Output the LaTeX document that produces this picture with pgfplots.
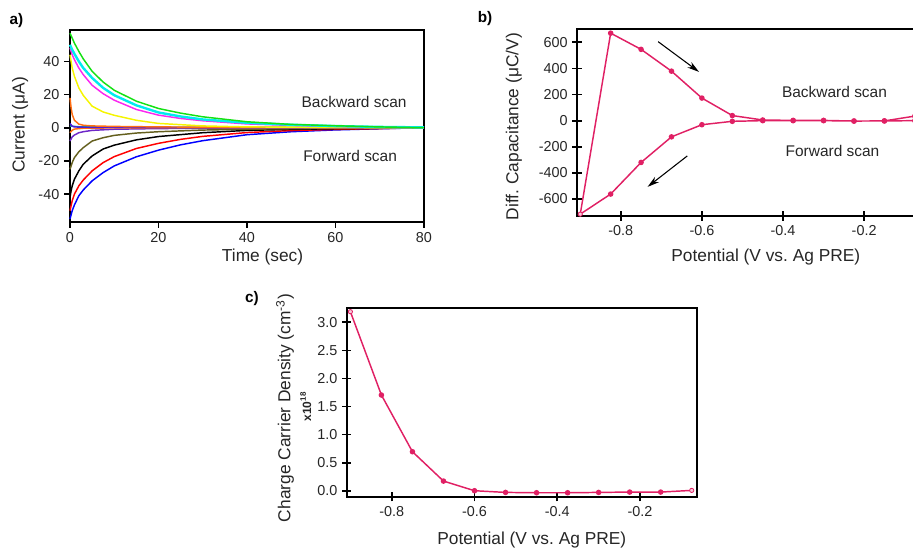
\documentclass[border=0pt]{standalone}
\usepackage{pgfplots}
\pgfplotsset{compat=1.18}
\usepackage{fontspec}
\setmainfont{Liberation Sans}
\usetikzlibrary{arrows.meta}
\frenchspacing
\definecolor{pk}{RGB}{224,32,100}
\definecolor{cgreen}{RGB}{20,225,20}
\definecolor{ccyan}{RGB}{0,235,240}
\definecolor{cmag}{RGB}{250,40,240}
\definecolor{cyel}{RGB}{245,245,0}
\definecolor{corange}{RGB}{255,110,20}
\definecolor{cpurple}{RGB}{110,40,200}
\definecolor{colive}{RGB}{100,95,30}
\definecolor{cteal}{RGB}{0,160,160}
\pgfplotsset{myax/.style={scale only axis,
  axis line style={line width=1.4pt},
  every tick/.style={line width=1.3pt, black},
  major tick length=4.5pt, tick align=outside,
  xtick pos=bottom, ytick pos=left,
  /pgf/number format/assume math mode=true,
  ticklabel style={font=\fontsize{10.8}{12}\selectfont, text=black!85},
  label style={font=\fontsize{13}{15}\selectfont, text=black!85},
  clip=false}}
\begin{document}
\frenchspacing
\begin{tikzpicture}
% ---------------- panel a ----------------
\begin{axis}[myax, at={(52.5pt,245.25pt)}, anchor=south west,
  width=265.5pt, height=144pt,
  xmin=0, xmax=80, ymin=-56.8, ymax=58.9,
  xtick={0,20,40,60,80}, ytick={-40,-20,0,20,40},
  xlabel={Time (sec)}, ylabel={Current (μA)},
  xlabel style={at={(axis description cs:0.544,-0.181)}, anchor=center},
  ylabel style={at={(axis description cs:-0.141,0.505)}, anchor=center}]
\addplot[blue, line width=1.1pt] coordinates {(0,-55) (0.25,-52.5) (0.5,-50) (1,-46.5) (2,-41) (3,-37.5) (5,-32) (7.5,-27) (10,-23) (15,-17.5) (20,-13.5) (25,-10.3) (30,-7.8) (40,-4.2) (50,-2.4) (60,-1.3) (70,-0.6) (80,0)};
\addplot[red, line width=1.1pt] coordinates {(0,-50) (0.25,-47) (0.5,-44) (1,-40) (2,-35) (3,-31.5) (5,-26) (7.5,-21) (10,-17.4) (15,-12.5) (20,-9.4) (25,-7) (30,-5.2) (40,-2.9) (50,-1.7) (60,-1) (70,-0.5) (80,0)};
\addplot[black, line width=1.1pt] coordinates {(0,-42) (0.25,-38) (0.5,-35) (1,-31) (2,-26) (3,-22) (5,-17) (7.5,-12.8) (10,-10.5) (15,-7.3) (20,-5.3) (30,-3) (40,-1.6) (50,-1) (60,-0.6) (70,-0.3) (80,0)};
\addplot[colive, line width=1.1pt] coordinates {(0,-25) (0.25,-23) (0.5,-21) (1,-18) (2,-14.5) (3,-12) (5,-8) (7.5,-6) (10,-4.6) (15,-3.2) (20,-2.4) (30,-1.4) (40,-0.9) (60,-0.3) (80,0)};
\addplot[cpurple, line width=1.1pt] coordinates {(0,-8) (0.3,-6.5) (0.5,-5.5) (1,-4.4) (2,-3) (3,-2.4) (5,-1.6) (10,-0.9) (20,-0.5) (40,-0.2) (80,0)};
\addplot[corange, line width=1.1pt] coordinates {(0,-3) (0.5,-1.5) (1,-0.8) (3,-0.3) (10,-0.1) (80,0)};
\addplot[cteal, line width=1.1pt] coordinates {(0,1) (2,0.6) (5,0.5) (20,0.3) (80,0)};
\addplot[cpurple!70!blue, line width=1.1pt] coordinates {(0,2.5) (0.5,1) (1,0.5) (3,0.3) (20,0.1) (80,0)};
\addplot[corange, line width=1.1pt] coordinates {(0,18) (0.25,12) (0.5,8) (1,4.5) (2,2.2) (3,1.5) (5,1.1) (10,0.8) (20,0.5) (40,0.2) (80,0)};
\addplot[cyel, line width=1.1pt] coordinates {(0,44) (0.25,40) (0.5,36) (1,31) (2,24) (3,19.5) (5,13) (7.5,9.5) (10,7.5) (15,4.5) (20,2.6) (30,1.1) (40,0.5) (60,0.2) (80,0)};
\addplot[cmag, line width=1.1pt] coordinates {(0,48) (0.5,44) (1,41) (2,36) (3,32) (5,25.6) (7.5,20.5) (10,16.6) (15,11) (20,7.6) (25,5.6) (30,4.2) (40,2.3) (50,1.4) (60,0.8) (70,0.4) (80,0.1)};
\addplot[ccyan, line width=1.8pt] coordinates {(0,50) (0.5,47) (1,44.5) (2,40) (3,36) (5,30) (7.5,24) (10,19.6) (15,13.5) (20,9.2) (25,6.8) (30,5) (40,3) (50,1.8) (60,1) (70,0.5) (80,0.2)};
\addplot[cgreen, line width=1.1pt] coordinates {(0,57) (0.5,54) (1,51) (2,46) (3,41.5) (5,34) (7.5,27.5) (10,22.6) (15,16) (20,11.6) (25,8.8) (30,6.6) (40,3.6) (50,2) (60,1.2) (70,0.5) (80,0)};
\node[font=\fontsize{11.6}{13}\selectfont, text=black!85] at (axis cs:64.2,15.6) {Backward scan};
\node[font=\fontsize{11.6}{13}\selectfont, text=black!85] at (axis cs:63.3,-16.8) {Forward scan};
\end{axis}
% ---------------- panel b ----------------
\begin{axis}[myax, tick align=center, major tick length=7pt,
  at={(432.75pt,249.75pt)}, anchor=south west,
  width=257pt, height=140.25pt,
  xmin=-0.908, xmax=-0.063, ymin=-730, ymax=702,
  xtick={-0.8,-0.6,-0.4,-0.2}, ytick={-600,-400,-200,0,200,400,600},
  xlabel={Potential (V vs.\ Ag PRE)}, ylabel={Diff.\ Capacitance (μC/V)},
  xlabel style={at={(axis description cs:0.551,-0.218)}, anchor=center},
  ylabel style={at={(axis description cs:-0.184,0.478)}, anchor=center}]
\addplot[pk, line width=1.1pt, mark=*, mark size=1.5pt, mark options={fill=pk}, mark indices={1,...,11,13,14,...,23}] coordinates {(-0.075,0) (-0.15,-2) (-0.225,-3) (-0.3,0) (-0.375,0) (-0.45,0) (-0.525,-5) (-0.6,-31) (-0.675,-124) (-0.75,-320) (-0.825,-562) (-0.9,-716) (-0.825,670) (-0.75,546) (-0.675,379) (-0.6,173) (-0.525,39) (-0.45,5) (-0.375,2) (-0.3,2) (-0.225,-3) (-0.15,-2) (-0.075,35)};
\addplot[only marks, mark=*, mark size=1.6pt, mark options={draw=pk, fill=pk!25, line width=0.6pt}] coordinates {(-0.9,-716)};
\draw[black, line width=0.8pt, -{Stealth[length=9pt,width=5pt]}] (axis cs:-0.708,605) -- (axis cs:-0.607,373);
\draw[black, line width=0.8pt, -{Stealth[length=9pt,width=5pt]}] (axis cs:-0.636,-270) -- (axis cs:-0.734,-507);
\node[font=\fontsize{11.6}{13}\selectfont, text=black!85] at (axis cs:-0.273,217) {Backward scan};
\node[font=\fontsize{11.6}{13}\selectfont, text=black!85] at (axis cs:-0.278,-230) {Forward scan};
\end{axis}
% ---------------- panel c ----------------
\begin{axis}[myax, tick align=center, major tick length=7pt,
  at={(260pt,39.2pt)}, anchor=south west,
  width=262.5pt, height=141.3pt,
  xmin=-0.909, xmax=-0.063, ymin=-0.107, ymax=3.25,
  xtick={-0.8,-0.6,-0.4,-0.2}, ytick={0,0.5,1,1.5,2,2.5,3},
  yticklabel style={/pgf/number format/.cd, fixed, fixed zerofill, precision=1},
  xlabel={Potential (V vs.\ Ag PRE)}, ylabel={Charge Carrier Density (cm\textsuperscript{-3})},
  xlabel style={at={(axis description cs:0.529,-0.23)}, anchor=center},
  ylabel style={at={(axis description cs:-0.176,0.471)}, anchor=center}]
\addplot[pk, line width=1.1pt, mark=*, mark size=1.5pt, mark options={fill=pk}, mark indices={2,...,11}] coordinates {(-0.9,3.19) (-0.825,1.705) (-0.75,0.695) (-0.675,0.172) (-0.6,0.0) (-0.525,-0.03) (-0.45,-0.036) (-0.375,-0.036) (-0.3,-0.03) (-0.225,-0.024) (-0.15,-0.024) (-0.075,0.006)};
\addplot[only marks, mark=*, mark size=1.6pt, mark options={draw=pk, fill=pk!25, line width=0.6pt}] coordinates {(-0.9,3.19) (-0.075,0.006)};
\node[rotate=90, font=\bfseries\fontsize{9}{10}\selectfont, text=black!85] at (axis description cs:-0.117,0.478) {x10\textsuperscript{18}};
\end{axis}
\node[font=\bfseries\fontsize{11.5}{13}\selectfont] at (12.4pt,396pt) {a)};
\node[font=\bfseries\fontsize{11.5}{13}\selectfont] at (363.75pt,397.5pt) {b)};
\node[font=\bfseries\fontsize{11.5}{13}\selectfont] at (189pt,187.5pt) {c)};
\pgfresetboundingbox
\path[use as bounding box] (0,0) rectangle (684.75pt,411.75pt);
\end{tikzpicture}
\end{document}
